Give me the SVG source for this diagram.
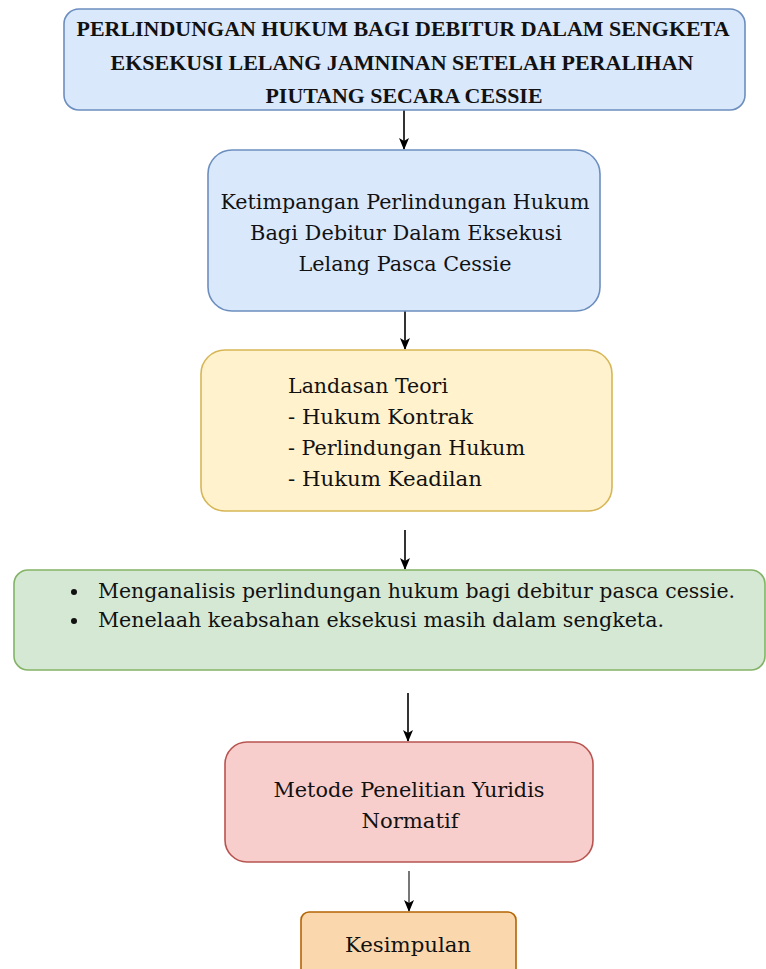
<svg xmlns="http://www.w3.org/2000/svg" width="766" height="969" viewBox="0 0 766 969">
<style>
.box{stroke-width:1.6}
.blue{fill:#dae8fc;stroke:#6c8ebf}
.yellow{fill:#fff2cc;stroke:#d6b656}
.green{fill:#d5e8d4;stroke:#82b366}
.red{fill:#f8cecc;stroke:#b85450}
.orange{fill:#fad7ac;stroke:#b46504}
.title{font-family:"Liberation Serif","Times New Roman",serif;font-weight:bold;font-size:22px;fill:#111;text-anchor:middle}
.t{font-family:"DejaVu Serif","Liberation Serif",serif;font-size:20px;fill:#111}
.c{text-anchor:middle}
.edge{stroke:#000;stroke-width:1.6;fill:none}
</style>
<defs>
<marker id="arr" viewBox="0 0 12 12" refX="11" refY="6" markerWidth="12" markerHeight="12" markerUnits="userSpaceOnUse" orient="auto">
<path d="M0,1 L12,6 L0,11 L3,6 Z" fill="#000"/>
</marker>
</defs>
<g id="connectors">
<line class="edge" x1="404" y1="110" x2="404" y2="149" marker-end="url(#arr)"/>
<line class="edge" x1="405" y1="311" x2="405" y2="349" marker-end="url(#arr)"/>
<line class="edge" x1="405" y1="530" x2="405" y2="569" marker-end="url(#arr)"/>
<line class="edge" x1="408" y1="693" x2="408" y2="741" marker-end="url(#arr)"/>
<line class="edge" x1="409" y1="871" x2="409" y2="911" style="stroke:#555" marker-end="url(#arr)"/>
</g>
<g id="node-title">
<rect class="box blue" x="64" y="9" width="681" height="101" rx="15"/>
<text class="title" x="403" y="36" textLength="653" lengthAdjust="spacingAndGlyphs">PERLINDUNGAN HUKUM BAGI DEBITUR DALAM SENGKETA</text>
<text class="title" x="402" y="70" textLength="583" lengthAdjust="spacingAndGlyphs">EKSEKUSI LELANG JAMNINAN SETELAH PERALIHAN</text>
<text class="title" x="404" y="103" textLength="277" lengthAdjust="spacingAndGlyphs">PIUTANG SECARA CESSIE</text>
</g>
<g id="node-ketimpangan">
<rect class="box blue" x="208" y="150" width="392" height="161" rx="24"/>
<text class="t c" x="405" y="209" textLength="369" lengthAdjust="spacingAndGlyphs">Ketimpangan Perlindungan Hukum</text>
<text class="t c" x="406" y="240" textLength="312" lengthAdjust="spacingAndGlyphs">Bagi Debitur Dalam Eksekusi</text>
<text class="t c" x="405" y="271" textLength="213" lengthAdjust="spacingAndGlyphs">Lelang Pasca Cessie</text>
</g>
<g id="node-landasan">
<rect class="box yellow" x="201" y="350" width="411" height="161" rx="24"/>
<text class="t" x="288" y="393" textLength="160" lengthAdjust="spacingAndGlyphs">Landasan Teori</text>
<text class="t" x="288" y="424" textLength="185" lengthAdjust="spacingAndGlyphs">- Hukum Kontrak</text>
<text class="t" x="288" y="455" textLength="237" lengthAdjust="spacingAndGlyphs">- Perlindungan Hukum</text>
<text class="t" x="288" y="486" textLength="194" lengthAdjust="spacingAndGlyphs">- Hukum Keadilan</text>
</g>
<g id="node-tujuan">
<rect class="box green" x="14" y="570" width="751" height="100" rx="14"/>
<circle cx="74" cy="592" r="3" fill="#111"/>
<circle cx="74" cy="621" r="3" fill="#111"/>
<text class="t" x="98" y="598" textLength="637" lengthAdjust="spacingAndGlyphs">Menganalisis perlindungan hukum bagi debitur pasca cessie.</text>
<text class="t" x="98" y="627" textLength="566" lengthAdjust="spacingAndGlyphs">Menelaah keabsahan eksekusi masih dalam sengketa.</text>
</g>
<g id="node-metode">
<rect class="box red" x="225" y="742" width="368" height="120" rx="22"/>
<text class="t c" x="409" y="797" textLength="271" lengthAdjust="spacingAndGlyphs">Metode Penelitian Yuridis</text>
<text class="t c" x="410" y="828" textLength="97" lengthAdjust="spacingAndGlyphs">Normatif</text>
</g>
<g id="node-kesimpulan">
<rect class="box orange" x="301" y="912" width="215" height="70" rx="8"/>
<text class="t c" x="408" y="952" textLength="126" lengthAdjust="spacingAndGlyphs">Kesimpulan</text>
</g>
</svg>
